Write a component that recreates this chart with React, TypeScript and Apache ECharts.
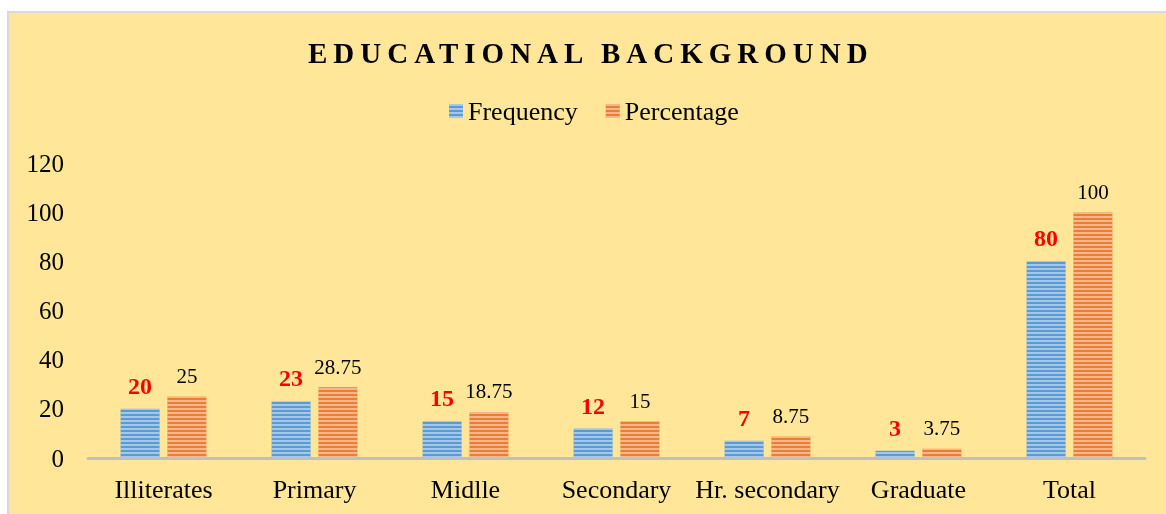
import React, { useEffect, useRef } from "react";
import * as echarts from "echarts";

const categories = ["Illiterates", "Primary", "Midlle", "Secondary", "Hr. secondary", "Graduate", "Total"];
const frequency = [20, 23, 15, 12, 7, 3, 80];
const percentage = [25, 28.75, 18.75, 15, 8.75, 3.75, 100];
const yTicks = { min: 0, max: 120, interval: 20 };
const titleText = "EDUCATIONAL BACKGROUND";

const SERIF = "'Liberation Serif', 'Times New Roman', serif";

export default function App() {
  const ref = useRef<HTMLDivElement>(null);
  useEffect(() => {
    if (!ref.current) return;
    const chart = echarts.init(ref.current, null, { renderer: "svg" });
    const stripe = {
      symbol: "rect",
      symbolSize: 1,
      dashArrayX: [[1, 0]],
      dashArrayY: [2, 2],
      color: "rgba(255,255,255,0.45)",
      rotation: 0,
    };
    chart.setOption({
      animation: false,
      backgroundColor: "transparent",
      graphic: [
        {
          type: "rect",
          z: -10,
          silent: true,
          shape: { x: 8, y: 12, width: 1170, height: 510 },
          style: { fill: "#FFE699", stroke: "#D9D9D9", lineWidth: 2 },
        },
      ],
      title: {
        text: titleText,
        left: 303,
        top: 33,
        textStyle: { fontFamily: SERIF, fontSize: 29, fontWeight: "bold", color: "#000" },
      },
      legend: {
        top: 93,
        left: 444,
        itemWidth: 14,
        itemHeight: 14,
        itemGap: 28,
        icon: "rect",
        textStyle: { fontFamily: SERIF, fontSize: 26, color: "#000" },
        data: ["Frequency", "Percentage"],
      },
      grid: { left: 88, right: 21, top: 163, bottom: 56, containLabel: false },
      xAxis: {
        type: "category",
        data: categories,
        axisLine: { show: true, lineStyle: { color: "#BFBFBF", width: 3 } },
        axisTick: { show: false },
        axisLabel: { fontFamily: SERIF, fontSize: 26, color: "#000", margin: 18, interval: 0 },
      },
      yAxis: {
        type: "value",
        min: yTicks.min,
        max: yTicks.max,
        interval: yTicks.interval,
        splitLine: { show: false },
        axisLine: { show: false },
        axisTick: { show: false },
        axisLabel: { fontFamily: SERIF, fontSize: 25, color: "#000", margin: 24 },
      },
      series: [
        {
          name: "Frequency",
          type: "bar",
          data: frequency,
          barWidth: 39,
          barGap: "20%",
          itemStyle: { color: "#5B9BD5", decal: stripe },
          label: {
            show: true,
            position: "top",
            distance: 11,
            fontFamily: SERIF,
            fontSize: 24,
            fontWeight: "bold",
            color: "#FF0000",
          },
        },
        {
          name: "Percentage",
          type: "bar",
          data: percentage,
          barWidth: 39,
          barGap: "20%",
          itemStyle: { color: "#ED7D31", decal: stripe },
          label: {
            show: true,
            position: "top",
            distance: 10,
            fontFamily: SERIF,
            fontSize: 21,
            color: "#000",
          },
        },
      ],
    });
    const spaceTitle = () => {
      const texts = ref.current?.querySelectorAll("text") || [];
      texts.forEach((t: any) => {
        if (t.textContent === titleText) {
          t.style.letterSpacing = "6px";
        }
      });
    };
    spaceTitle();
    chart.on("finished", spaceTitle);
    return () => chart.dispose();
  }, []);
  return (
    <div
      ref={ref}
      style={{ position: "fixed", left: 0, top: 0, width: 1166, height: 514 }}
    />
  );
}
